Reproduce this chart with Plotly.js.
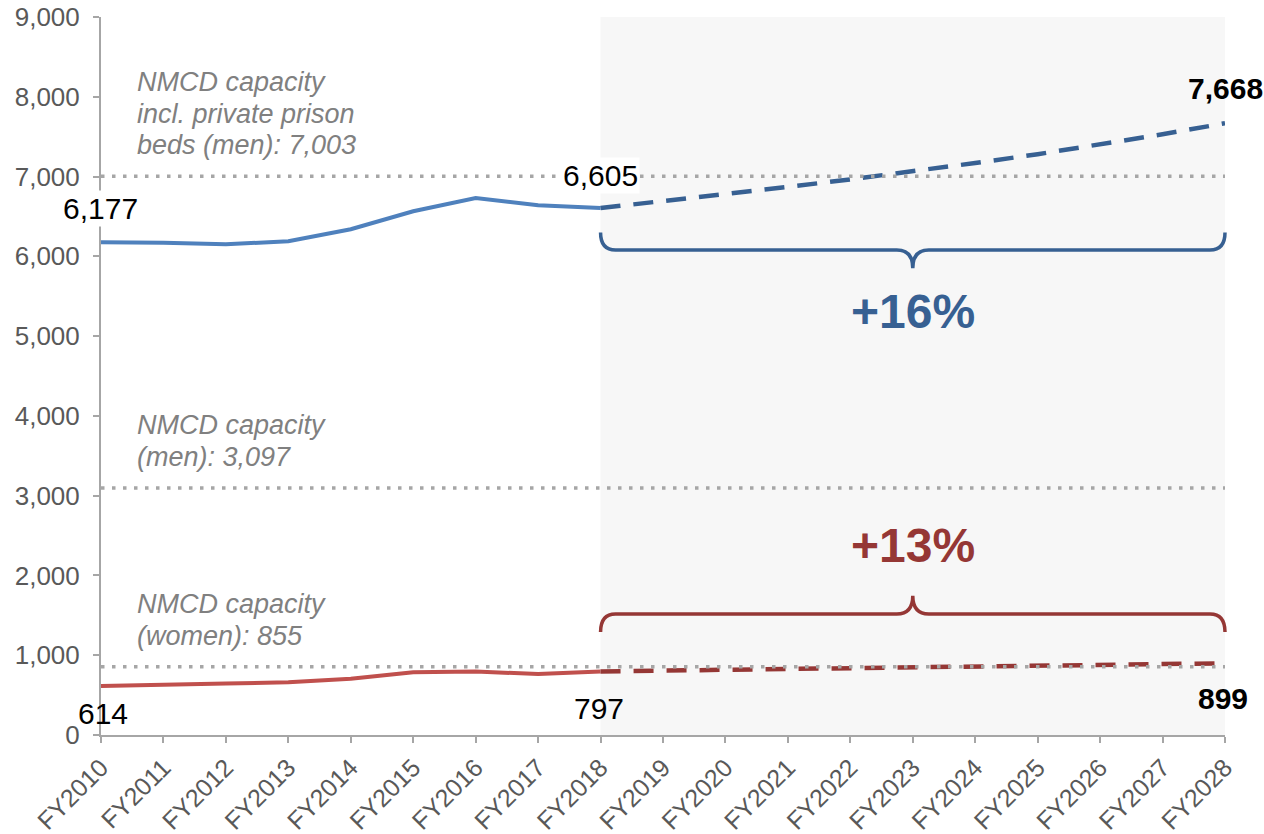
<!DOCTYPE html>
<html>
<head>
<meta charset="utf-8">
<script src="https://cdn.plot.ly/plotly-3.0.1.min.js"></script>
<style>html,body{margin:0;padding:0;background:#fff;}#chart{width:1264px;height:834px;}</style>
</head>
<body>
<div id="chart"></div>
<script>
// ---- data ----
const categories = ["FY2010","FY2011","FY2012","FY2013","FY2014","FY2015","FY2016","FY2017","FY2018",
  "FY2019","FY2020","FY2021","FY2022","FY2023","FY2024","FY2025","FY2026","FY2027","FY2028"];
const menActual = [6177, 6170, 6150, 6190, 6340, 6565, 6730, 6640, 6605];
const menProjected = [6605, 6690, 6780, 6870, 6965, 7065, 7170, 7280, 7400, 7530, 7668];
const womenActual = [614, 625, 645, 660, 705, 785, 795, 765, 797];
const womenProjected = [797, 806, 815, 825, 835, 845, 856, 866, 877, 888, 899];
const capacityValues = [7003, 3097, 855];
const capacityLabels = [["NMCD capacity", "incl. private prison", "beds (men): "], ["NMCD capacity", "(men): "], ["NMCD capacity", "(women): "]];
const growthLabels = ["+16%", "+13%"];
const yTicks = [0,1000,2000,3000,4000,5000,6000,7000,8000,9000];

// ---- derived ----
const actualCats = categories.slice(0, menActual.length);
const projCats = categories.slice(menActual.length - 1);
const fmt = v => v.toLocaleString("en-US");
const FONT = "Liberation Sans, Arial, sans-serif";
const BLUE = "#4f81bd", BLUE_D = "#376092", RED = "#c0504d", RED_D = "#953735";
const GREY_TXT = "#808080";

const traces = [
  {x: actualCats, y: menActual, mode: "lines", line: {color: BLUE, width: 4}, hoverinfo: "skip"},
  {x: projCats, y: menProjected, mode: "lines", line: {color: BLUE_D, width: 4.5, dash: "20px,13px"}, hoverinfo: "skip"},
  {x: actualCats, y: womenActual, mode: "lines", line: {color: RED, width: 4}, hoverinfo: "skip"},
  {x: projCats, y: womenProjected, mode: "lines", line: {color: RED_D, width: 4.5, dash: "20px,13px"}, hoverinfo: "skip"}
];

const nCat = categories.length - 1;
const xStart = (menActual.length - 1) / nCat;
const xEnd = 1;
const xMid = (xStart + xEnd) / 2;
function brace(yEnd, yBar, yTip, color) {
  const rx = 15 / 1124, rxt = 16 / 1124;
  const p = `M ${xStart},${yEnd} Q ${xStart},${yBar} ${xStart + rx},${yBar} L ${xMid - rxt},${yBar} ` +
    `Q ${xMid},${yBar} ${xMid},${yTip} Q ${xMid},${yBar} ${xMid + rxt},${yBar} ` +
    `L ${xEnd - rx},${yBar} Q ${xEnd},${yBar} ${xEnd},${yEnd}`;
  return {type: "path", xref: "paper", yref: "y", path: p, line: {color: color, width: 3.5}, layer: "above"};
}

const shapes = [
  {type: "rect", xref: "x", yref: "paper", x0: categories[menActual.length - 1], x1: categories[nCat], y0: 0, y1: 1,
   fillcolor: "#f7f7f7", line: {width: 0}, layer: "below"}
];
capacityValues.forEach(v => shapes.push({type: "line", xref: "paper", yref: "y", x0: 0, x1: 1, y0: v, y1: v,
  line: {color: "#a6a6a6", width: 3.5, dash: "3.5px,7.5px"}, layer: "above"}));
shapes.push(brace(6300, 6080, 5850, BLUE_D));
shapes.push(brace(1290, 1517, 1745, RED_D));

const lab = (x, y, text, yshift, bold, xshift) => ({
  x: x, y: y, xref: "x", yref: "y", text: bold ? "<b>" + text + "</b>" : text, showarrow: false,
  yshift: yshift, xshift: xshift || 0, font: {family: FONT, size: 30, color: "#000"}
});
const annotations = [
  Object.assign(lab(categories[0], menActual[0], fmt(menActual[0]), 34, false, -1), {bgcolor: "#ffffff"}),
  Object.assign(lab(categories[menActual.length - 1], menActual[menActual.length - 1], fmt(menActual[menActual.length - 1]), 33, false, 0), {bgcolor: "#ffffff"}),
  lab(categories[nCat], menProjected[menProjected.length - 1], fmt(menProjected[menProjected.length - 1]), 35, true, 0),
  lab(categories[0], womenActual[0], fmt(womenActual[0]), -27, false, 2),
  lab(categories[menActual.length - 1], womenActual[womenActual.length - 1], fmt(womenActual[womenActual.length - 1]), -37, false, -2),
  lab(categories[nCat], womenProjected[womenProjected.length - 1], fmt(womenProjected[womenProjected.length - 1]), -35, true, -2)
];
const LINE_H = 31.5;
capacityValues.forEach((v, i) => {
  const lines = capacityLabels[i].slice();
  lines[lines.length - 1] = lines[lines.length - 1] + fmt(v);
  const n = lines.length;
  lines.forEach((t, k) => annotations.push({
    xref: "paper", yref: "y", x: 34 / 1124, y: v, xanchor: "left", yanchor: "middle", align: "left",
    yshift: 31 + (n - 1 - k) * LINE_H, showarrow: false, text: "<i>" + t + "</i>",
    font: {family: FONT, size: 27, color: GREY_TXT}
  }));
});
annotations.push({xref: "paper", yref: "y", x: xMid, xanchor: "center", y: 6080, yshift: -62, showarrow: false,
  text: "<b>" + growthLabels[0] + "</b>", font: {family: FONT, size: 48, color: BLUE_D}});
annotations.push({xref: "paper", yref: "y", x: xMid, xanchor: "center", y: 1517, yshift: 68, showarrow: false,
  text: "<b>" + growthLabels[1] + "</b>", font: {family: FONT, size: 48, color: RED_D}});

const layout = {
  width: 1264, height: 834,
  margin: {l: 101, r: 39, t: 17, b: 99},
  paper_bgcolor: "#ffffff", plot_bgcolor: "#ffffff",
  showlegend: false,
  font: {family: FONT, color: "#595959"},
  xaxis: {type: "category", categoryorder: "array", categoryarray: categories, range: [0, nCat],
    showgrid: false, zeroline: false, showline: true, linecolor: "#a6a6a6", linewidth: 2,
    ticks: "outside", ticklen: 6, tickcolor: "#a6a6a6", tickwidth: 2, tickangle: -45,
    tickfont: {family: FONT, size: 25, color: "#595959"}},
  yaxis: {range: [0, 9000], tickvals: yTicks, tickformat: ",", showgrid: false, zeroline: false,
    showline: true, linecolor: "#a6a6a6", linewidth: 2, ticks: "outside", ticklen: 6, tickcolor: "#a6a6a6", tickwidth: 2,
    tickfont: {family: FONT, size: 26, color: "#595959"}, ticklabelstandoff: 8},
  shapes: shapes,
  annotations: annotations
};
Plotly.newPlot("chart", traces, layout, {staticPlot: true, displayModeBar: false});
</script>
</body>
</html>
